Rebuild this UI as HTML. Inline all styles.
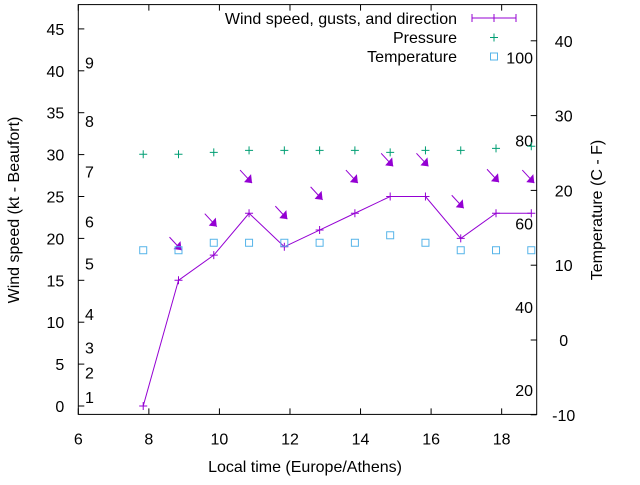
<!DOCTYPE html>
<html><head><meta charset="utf-8"><style>
body{margin:0;background:#fff}
svg text{font-family:"Liberation Sans",sans-serif;font-size:16px;fill:#000}
</style></head><body>
<svg id="chart" width="640" height="480" viewBox="0 0 640 480" xmlns="http://www.w3.org/2000/svg">
<g id="axes"></g>
<g id="marks"></g>
</svg>
<script>
const times=[7.84,8.84,9.84,10.84,11.84,12.84,13.84,14.84,15.84,16.84,17.84,18.84];
const windKt=[0,15,18,23,19,21,23,25,25,20,23,23];
const gustKt=[null,18.6,21.4,26.6,22.3,24.6,26.6,28.6,28.6,23.6,26.7,26.6];
const pressureScaled=[30.04,30.04,30.27,30.51,30.51,30.51,30.51,30.27,30.51,30.51,30.75,30.99];
const tempC=[12,12,13,13,13,13,13,14,13,12,12,12];
const xTicks=[6,8,10,12,14,16,18];
const yTicks=[0,5,10,15,20,25,30,35,40,45];
const y2Ticks=[-10,0,10,20,30,40];
const fTicks=[20,40,60,80,100];
const beaufortLabels=[1,2,3,4,5,6,7,8,9];
const beaufortKt=[1.1,4,7,11,17,22,28,34,41];

const L=78.3,R=536.7,T=4.6,B=414.4;
const xs=t=>L+(t-6)*35.28;
const ys=v=>406-v*8.38;
const y2=c=>340-c*7.48;
const NS="http://www.w3.org/2000/svg";
const axes=document.getElementById('axes'),marks=document.getElementById('marks');
function mk(tag,attrs,parent,txt){const e=document.createElementNS(NS,tag);for(const k in attrs)e.setAttribute(k,attrs[k]);if(txt!==undefined)e.textContent=txt;parent.appendChild(e);return e;}

let e=mk('rect',{x:L,y:T,width:R-L,height:B-T,fill:'none',stroke:'#000','stroke-width':1},axes);


xTicks.forEach(t=>{
  let l=mk('path',{d:`M${xs(t)},${B}v-6M${xs(t)},${T}v6`,stroke:'#000'},axes);
  
  
  let tx=mk('text',{x:xs(t),y:B+30,'text-anchor':'middle'},axes,String(t));
  
  
});
yTicks.forEach(v=>{
  let l=mk('path',{d:`M${L},${ys(v)}h6`,stroke:'#000'},axes);
  
  
  let tx=mk('text',{x:L-14,y:ys(v)+6,'text-anchor':'end'},axes,String(v));
  
  
});
y2Ticks.forEach(c=>{
  let l=mk('path',{d:`M${R},${y2(c)}h-6`,stroke:'#000'},axes);
  
  
  let tx=mk('text',{x:R+27,y:y2(c)+6,'text-anchor':'middle'},axes,String(c));
  
  
});
fTicks.forEach(f=>{
  let tx=mk('text',{x:533,y:y2((f-32)*5/9)+6,'text-anchor':'end'},axes,String(f));
  
  
});
beaufortLabels.forEach((b,i)=>{
  let tx=mk('text',{x:85,y:ys(beaufortKt[i])+6},axes,String(b));
  
  
});
e=mk('text',{x:305,y:472,'text-anchor':'middle'},axes,'Local time (Europe/Athens)');


e=mk('text',{x:19,y:210,'text-anchor':'middle',transform:'rotate(-90 19 210)'},axes,'Wind speed (kt - Beaufort)');


e=mk('text',{x:602,y:210,'text-anchor':'middle',transform:'rotate(-90 602 210)'},axes,'Temperature (C - F)');



const purple='#9400d3';
e=mk('polyline',{points:times.map((t,i)=>xs(t)+','+ys(windKt[i])).join(' '),fill:'none',stroke:purple,'stroke-width':1},marks);


times.forEach((t,i)=>{
  const x=xs(t),y=ys(windKt[i]);
  let p=mk('path',{d:`M${x-4},${y}h8M${x},${y-4}v8`,stroke:purple},marks);
  
  
  if(gustKt[i]!==null){
    const hx=x+3,hy=ys(gustKt[i]);
    let a=mk('g',{},marks);
    
    
    mk('path',{d:`M${hx-12},${hy-13}L${hx},${hy}`,stroke:purple,'stroke-width':1},a);
    mk('path',{d:`M${hx},${hy}L${hx-8},${hy-1}L${hx-1},${hy-9}Z`,fill:purple},a);
  }
  let q=mk('path',{d:`M${x-4},${ys(pressureScaled[i])}h8M${x},${ys(pressureScaled[i])-4}v8`,stroke:'#009e73'},marks);
  
  
  let s=mk('rect',{x:x-3.5,y:y2(tempC[i])-3.5,width:7,height:7,fill:'none',stroke:'#56b4e9'},marks);
  
  
});

const lg=mk('g',{},marks);


e=mk('text',{x:457,y:24,'text-anchor':'end'},lg,'Wind speed, gusts, and direction');


mk('path',{d:'M472,18h44M472,14v8M516,14v8M494,14v8',stroke:purple},lg);
e=mk('text',{x:457,y:43,'text-anchor':'end'},lg,'Pressure');


mk('path',{d:'M490,37.5h8M494,33.5v8',stroke:'#009e73'},lg);
e=mk('text',{x:457,y:62,'text-anchor':'end'},lg,'Temperature');


mk('rect',{x:490.5,y:53,width:7,height:7,fill:'none',stroke:'#56b4e9'},lg);
</script>
</body></html>
